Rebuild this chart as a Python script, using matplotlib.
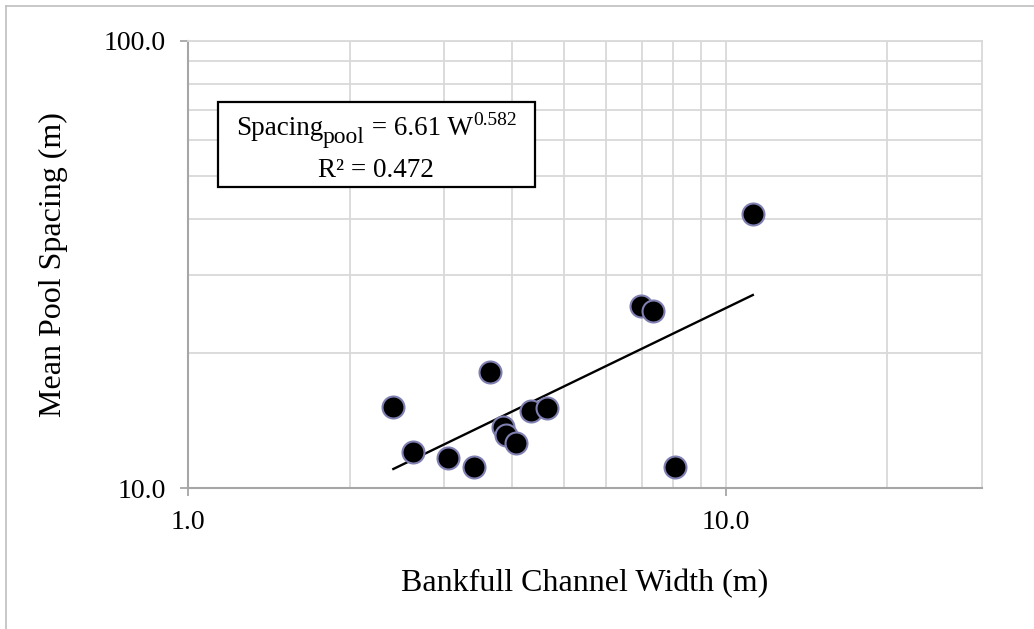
import numpy as np
import matplotlib
matplotlib.use("Agg")
import matplotlib.pyplot as plt
from matplotlib.lines import Line2D
from matplotlib.patches import Rectangle
from matplotlib.ticker import FixedLocator, NullFormatter

plt.rcParams['font.family'] = ['Liberation Serif', 'DejaVu Serif']

# data
width_m = [2.41, 2.62, 3.04, 3.41, 3.65, 3.86, 3.91, 4.07, 4.34, 4.65, 6.97, 7.33, 8.07, 11.24]
spacing_m = [15.2, 12.06, 11.65, 11.16, 18.2, 13.67, 13.14, 12.59, 14.89, 15.12, 25.5, 24.9, 11.16, 41.0]

# power fit shown in the box
coef = 6.61
expo = 0.582
r2 = 0.472

x_ticks = [1, 10]
x_ticklabels = ['1.0', '10.0']
y_ticks = [10, 100]
y_ticklabels = ['10.0', '100.0']

grid_col = '#d9d9d9'
axis_col = '#a6a6a6'
W, H = 1034, 629

fig = plt.figure(figsize=(W / 100, H / 100), dpi=100)
ax = fig.add_axes([188 / W, 1 - 488 / H, 794 / W, 447 / H])

ax.set_xscale('log')
ax.set_yscale('log')
ax.set_xlim(1, 30)
ax.set_ylim(10, 100)

# grid
ax.xaxis.set_minor_locator(FixedLocator([2, 3, 4, 5, 6, 7, 8, 9, 20]))
ax.yaxis.set_minor_locator(FixedLocator([20, 30, 40, 50, 60, 70, 80, 90]))
ax.xaxis.set_minor_formatter(NullFormatter())
ax.yaxis.set_minor_formatter(NullFormatter())
ax.grid(True, which='both', color=grid_col, linewidth=1.3)
ax.set_axisbelow(True)
ax.tick_params(which='minor', length=0)

ax.set_xticks(x_ticks)
ax.set_xticklabels(x_ticklabels)
ax.set_yticks(y_ticks)
ax.set_yticklabels(y_ticklabels)
ax.tick_params(which='major', direction='out', length=6, width=1.3,
               color=axis_col, labelsize=20, pad=10)

for s in ['top', 'right']:
    ax.spines[s].set_color(grid_col)
    ax.spines[s].set_linewidth(1.3)
for s in ['left', 'bottom']:
    ax.spines[s].set_color(axis_col)
    ax.spines[s].set_linewidth(1.5)

# trendline
xf = np.geomspace(min(width_m), max(width_m), 50)
ax.plot(xf, coef * xf ** expo, color='black', linewidth=1.7, zorder=3)

ax.scatter(width_m, spacing_m, s=250, color='black', edgecolors='#7f7fb2',
           linewidths=1.5, zorder=4)

ax.set_xlabel('Bankfull Channel Width (m)', fontsize=23, labelpad=24)
ax.set_ylabel('Mean Pool Spacing (m)', fontsize=23, labelpad=26)

# equation box, built from pieces so the subscript stays large like Excel's
fs = 19.5
y1 = 0.79
t1 = ax.text(0.060, y1, 'Spacing', transform=ax.transAxes, fontsize=fs,
             ha='left', va='baseline', zorder=6)
t2 = ax.annotate('pool', xy=(1, y1), xycoords=(t1, 'axes fraction'),
                 xytext=(0, -5.5), textcoords='offset points',
                 fontsize=17, va='baseline', zorder=6)
t3 = ax.annotate(' = %.2f W' % coef, xy=(1, y1), xycoords=(t2, 'axes fraction'),
                 xytext=(0, 0), textcoords='offset points',
                 fontsize=fs, va='baseline', zorder=6)
t4 = ax.annotate('%.3f' % expo, xy=(1, y1), xycoords=(t3, 'axes fraction'),
                 xytext=(0.5, 7), textcoords='offset points',
                 fontsize=14, va='baseline', zorder=6)

fig.canvas.draw()
r = fig.canvas.get_renderer()
pieces = [t1, t2, t3, t4]
x_left = min(p.get_window_extent(r).x0 for p in pieces)
x_right = max(p.get_window_extent(r).x1 for p in pieces)
xc = ax.transAxes.inverted().transform(((x_left + x_right) / 2, 0))[0]
t5 = ax.text(xc, 0.696, 'R\u00b2 = %.3f' % r2, transform=ax.transAxes,
             fontsize=fs, ha='center', va='baseline', zorder=6)

pad = 18
box_x0 = x_left - pad
box_x1 = x_right + pad
box_top = H - 102
box_bot = H - 187
ax.add_patch(Rectangle((box_x0 / W, box_bot / H), (box_x1 - box_x0) / W,
                       (box_top - box_bot) / H, transform=fig.transFigure,
                       facecolor='white', edgecolor='black', linewidth=1.6,
                       zorder=5, clip_on=False))

# outer chart border (top and left visible)
fig.add_artist(Line2D([6 / W, 1.0], [1 - 6 / H, 1 - 6 / H],
                      transform=fig.transFigure, color='#bfbfbf', linewidth=1.2))
fig.add_artist(Line2D([6 / W, 6 / W], [0.0, 1 - 6 / H],
                      transform=fig.transFigure, color='#bfbfbf', linewidth=1.2))

fig.savefig('out.png', dpi=100)
